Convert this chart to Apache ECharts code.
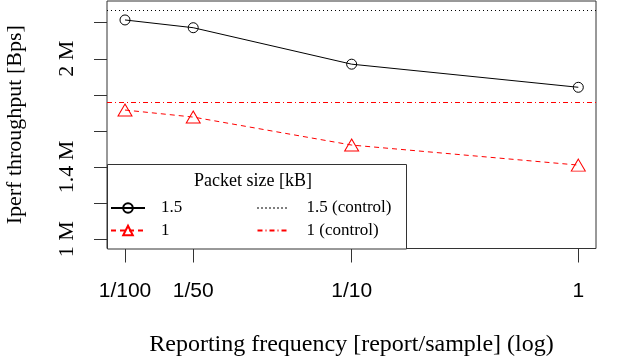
<!DOCTYPE html>
<html>
<head>
<meta charset="utf-8">
<script src="https://cdn.jsdelivr.net/npm/echarts@6/dist/echarts.min.js"></script>
<style>html,body{margin:0;padding:0;background:#fff}#c{width:623px;height:356px}</style>
</head>
<body>
<div id="c"></div>
<script>
// Data (throughput in millions of bytes per second)
const freqLabels = ['1/100', '1/50', '1/10', '1'];
const freqValues = [0.01, 0.02, 0.1, 1];
const size15 = [2.215, 2.172, 1.970, 1.842];
const size1 = [1.716, 1.677, 1.522, 1.411];
const control15 = 2.274;
const control1 = 1.759;
const yTickValues = [1.0, 1.2, 1.4, 1.6, 1.8, 2.0, 2.2];
const yLabelValues = [1.0, 1.4, 2.0];

const serif = 'Liberation Serif';
const sans = 'Liberation Sans';
const lx = freqValues.map(v => Math.log10(v));
const dotted = [1, 3];
const dotdash = [5, 3, 1, 3];

const chart = echarts.init(document.getElementById('c'), null, {renderer: 'canvas'});
chart.setOption({
  animation: false,
  backgroundColor: '#fff',
  grid: {left: 107, right: 27, top: 1, bottom: 107.5, outerBoundsMode: 'none', containLabel: false,
    show: true, borderColor: '#333', borderWidth: 1, backgroundColor: 'transparent'},
  xAxis: {
    type: 'value', min: -2.0794, max: 0.0781,
    name: 'Reporting frequency [report/sample] (log)', nameLocation: 'middle', nameGap: 84,
    nameTextStyle: {fontFamily: serif, fontSize: 24, color: '#000'},
    axisLine: {show: false, onZero: false},
    splitLine: {show: false},
    axisTick: {show: true, customValues: lx, length: 14, lineStyle: {color: '#333', width: 1}},
    axisLabel: {customValues: lx, margin: 32, fontFamily: sans, fontSize: 21, color: '#000',
      formatter: v => freqLabels[lx.findIndex(t => Math.abs(t - v) < 1e-9)]}
  },
  yAxis: {
    type: 'value', min: 0.949, max: 2.320,
    name: 'Iperf throughput [Bps]', nameLocation: 'middle', nameGap: 81, nameRotate: 90,
    nameTextStyle: {fontFamily: serif, fontSize: 22, color: '#000'},
    axisLine: {show: false, onZero: false},
    splitLine: {show: false},
    axisTick: {show: true, customValues: yTickValues, length: 13, lineStyle: {color: '#333', width: 1}},
    axisLabel: {customValues: yLabelValues, rotate: 90, margin: 29, fontFamily: serif, fontSize: 22, color: '#000',
      formatter: v => (+v.toFixed(1)) + ' M'}
  },
  legend: [
    {data: ['1.5', '1'], orient: 'vertical', left: 110, top: 199.5, padding: 0, itemWidth: 34, itemHeight: 12, itemGap: 5.5,
     selectedMode: false, z: 10,
     textStyle: {fontFamily: serif, fontSize: 17, color: '#000', padding: [0, 0, 0, 11]}},
    {data: ['1.5 (control)', '1 (control)'], orient: 'vertical', left: 256.5, top: 199.5, padding: 0, itemWidth: 32, itemHeight: 12, itemGap: 5.5,
     selectedMode: false, z: 10,
     textStyle: {fontFamily: serif, fontSize: 17, color: '#000', padding: [0, 0, 0, 12]}}
  ],
  graphic: [
    {type: 'rect', left: 107, top: 164, z: 5, shape: {width: 299, height: 84.5},
     style: {fill: '#fff', stroke: '#333', lineWidth: 1}},
    {type: 'text', x: 253, y: 181, z: 6,
     style: {text: 'Packet size [kB]', font: '18px "Liberation Serif"', fill: '#000', align: 'center', verticalAlign: 'middle'}}
  ],
  series: [
    {name: '1.5', type: 'line', data: lx.map((x, i) => [x, size15[i]]),
     symbol: 'circle', symbolSize: 10, itemStyle: {color: 'transparent', borderColor: '#000', borderWidth: 1},
     lineStyle: {color: '#000', width: 1, type: 'solid'}, z: 3},
    {name: '1', type: 'line', data: lx.map((x, i) => [x, size1[i]]),
     symbol: 'triangle', symbolSize: [14, 12], itemStyle: {color: 'transparent', borderColor: '#ff0000', borderWidth: 1},
     lineStyle: {color: '#ff0000', width: 1, type: [5, 4]}, z: 3},
    {name: '1.5 (control)', type: 'line', data: [], symbol: 'none', itemStyle: {color: 'transparent', borderColor: 'transparent'},
     lineStyle: {color: '#000', width: 1, type: dotted},
     markLine: {silent: true, symbol: 'none', label: {show: false},
       lineStyle: {color: '#000', width: 1, type: dotted},
       data: [{yAxis: control15, lineStyle: {color: '#000', width: 1, type: dotted}}]}},
    {name: '1 (control)', type: 'line', data: [], symbol: 'none', itemStyle: {color: 'transparent', borderColor: 'transparent'},
     lineStyle: {color: '#ff0000', width: 1, type: dotdash},
     markLine: {silent: true, symbol: 'none', label: {show: false},
       lineStyle: {color: '#ff0000', width: 1, type: dotdash},
       data: [{yAxis: control1, lineStyle: {color: '#ff0000', width: 1, type: dotdash}}]}}
  ]
});
</script>
</body>
</html>
